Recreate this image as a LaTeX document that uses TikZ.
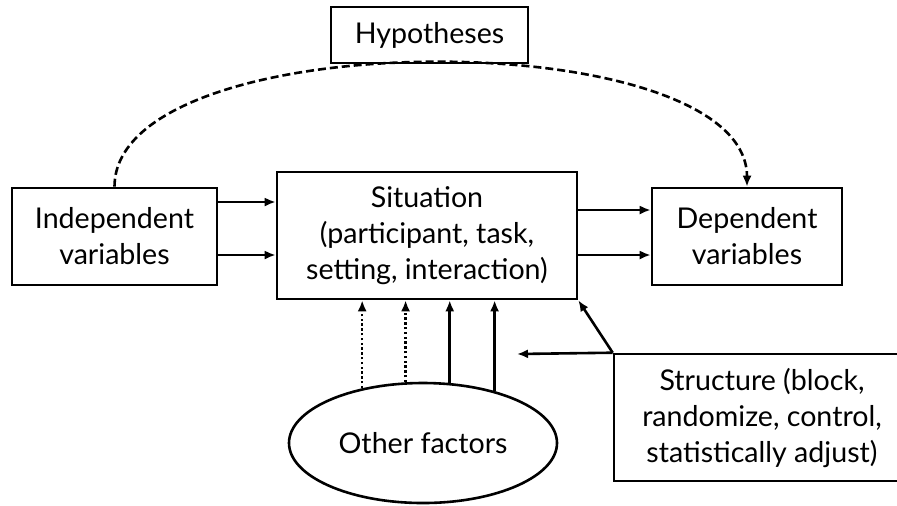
\documentclass[tikz,border=0pt]{standalone}
\usepackage{fontspec}
\setmainfont{Lato}
\usetikzlibrary{arrows,arrows.meta,shapes.geometric,positioning,calc}
\tikzset{>={Latex[length=5.5pt,width=4.5pt]},
	box/.style={draw=black,line width=1.3pt,align=center,inner sep=0pt,font=\fontsize{14.3}{18}\selectfont},
	oval/.style={ellipse,draw=black,line width=1.3pt,inner sep=0pt,font=\fontsize{14.3}{18}\selectfont},
	link/.style={->,line width=1.3pt},
	dotlink/.style={->,line width=1.3pt,dash pattern=on 1.2pt off 1.2pt},
	dashlink/.style={->,line width=1.3pt,dash pattern=on 4pt off 2pt}}
\begin{document}
\begin{tikzpicture}[x=0.5pt,y=-0.5pt]
	\useasboundingbox (0,0) rectangle (897,505);
	\node (Hyp) at (429.5,35) [box,minimum width=98.5pt,minimum height=28pt] {Hypotheses};
	\node (Ind) at (114.5,236.5) [box,minimum width=102.5pt,minimum height=48.5pt] {Independent\\variables};
	\node (Sit) at (427,235.5) [box,minimum width=150pt,minimum height=63.5pt] {Situation\\(participant, task,\\setting, interaction)};
	\node (Dep) at (747,236.5) [box,minimum width=95pt,minimum height=48.5pt] {Dependent\\variables};
	\node (Oth) at (423,443) [oval,minimum width=134pt,minimum height=60pt] {Other factors};
	\node (Str) at (762,417.5) [box,minimum width=148pt,minimum height=63.5pt] {Structure (block,\\randomize, control,\\statistically adjust)};
	\coordinate (StrTip) at (517,354);
	% hypotheses link
	\draw [dashlink] (Ind.north) .. controls +(0,-165) and +(0,-165) .. (Dep.north);
	% main flow
	\draw [link] ([yshift=17.25pt]Ind.east) -- ([yshift=17.25pt]Ind.east -| Sit.west);
	\draw [link] ([yshift=-9.25pt]Ind.east) -- ([yshift=-9.25pt]Ind.east -| Sit.west);
	\draw [link] ([yshift=12.75pt]Sit.east) -- ([yshift=12.75pt]Sit.east -| Dep.west);
	\draw [link] ([yshift=-9.75pt]Sit.east) -- ([yshift=-9.75pt]Sit.east -| Dep.west);
	% other factors
	\draw [dotlink] (Oth.138.2) -- (Oth.138.2 |- Sit.south);
	\draw [dotlink] (Oth.106.8) -- (Oth.106.8 |- Sit.south);
	\draw [link] (Oth.66.2) -- (Oth.66.2 |- Sit.south);
	\draw [link] (Oth.36.7) -- (Oth.36.7 |- Sit.south);
	% structure
	\draw [link] (Str.north west) -- (Sit.south east);
	\draw [link] (Str.north west) -- (StrTip);
\end{tikzpicture}
\end{document}
